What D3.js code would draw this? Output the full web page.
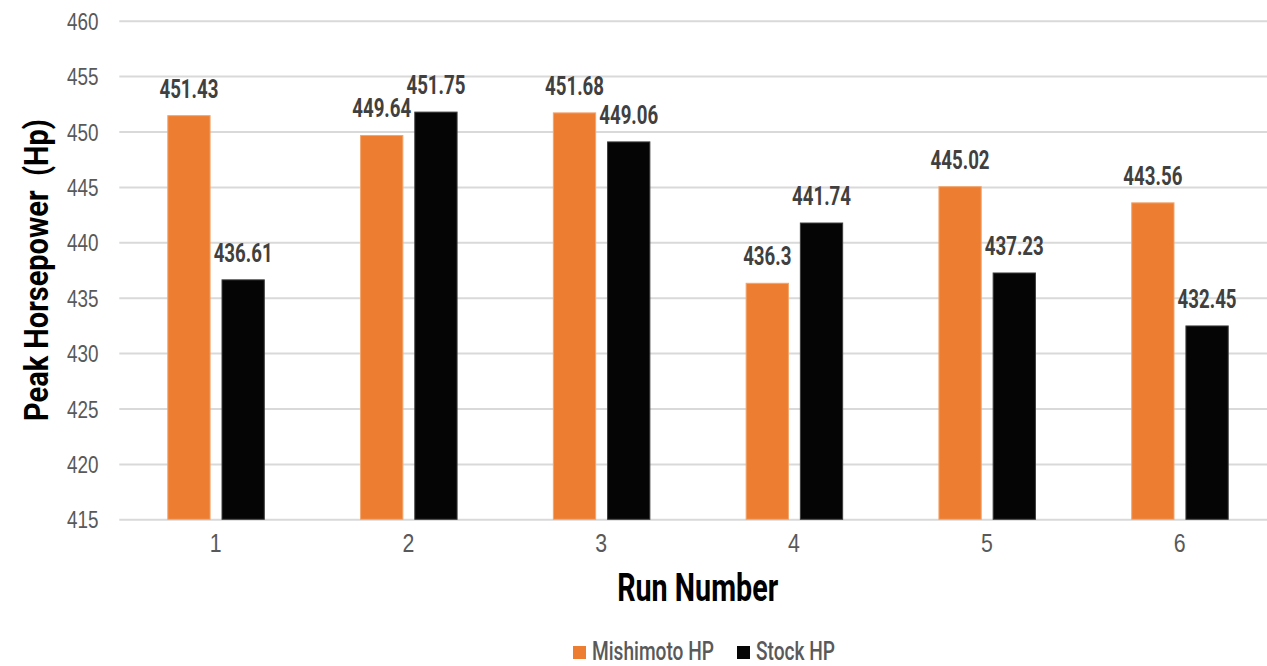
<!DOCTYPE html>
<html><head><meta charset="utf-8">
<script src="https://cdn.jsdelivr.net/npm/d3@7"></script>
<style>
html,body{margin:0;padding:0;background:#fff;}
svg{display:block;font-family:Roboto,"Liberation Sans",sans-serif;}
</style></head>
<body><svg id="c" width="1267" height="666"></svg>
<script>
const categories = ["1","2","3","4","5","6"];
const seriesNames = ["Mishimoto HP","Stock HP"];
const mishimoto = [451.43, 449.64, 451.68, 436.3, 445.02, 443.56];
const stock = [436.61, 451.75, 449.06, 441.74, 437.23, 432.45];
const yTicks = [415,420,425,430,435,440,445,450,455,460];
const colors = ["#ED7D31","#050505"];
const strokes = ["#F2A56E","#3c3c3c"];

const svg = d3.select("#c");
const x0 = d3.scaleBand().domain(categories).range([119.3,1276]).padding(0);
const x1 = d3.scaleBand().domain(seriesNames).range([48.5,145]).paddingInner(0.22).paddingOuter(0);
const y = d3.scaleLinear().domain([415,460]).range([519.3,20.7]);

// squeeze text horizontally to mimic the condensed face of the original
function condense(sel, ratio){
  sel.each(function(){
    const w = this.getComputedTextLength();
    this.setAttribute("textLength", (w*ratio).toFixed(2));
    this.setAttribute("lengthAdjust","spacingAndGlyphs");
  });
}
function ratioFor(sel, target){
  const n = sel.node();
  return target / n.getComputedTextLength();
}

// gridlines
const grid = svg.append("g")
  .attr("transform","translate(119.3,0)")
  .call(d3.axisLeft(y).tickValues(yTicks).tickSize(-(1276-119.3)).tickFormat(""));
grid.select(".domain").remove();
grid.selectAll("line").attr("stroke","#d9d9d9").attr("stroke-width",2);

// y tick labels
const yAxis = svg.append("g").attr("transform","translate(98.5,0)")
  .call(d3.axisLeft(y).tickValues(yTicks).tickSize(0).tickPadding(0).tickFormat(d3.format("d")));
yAxis.select(".domain").remove();
const ytx = yAxis.selectAll("text").attr("font-size",24).attr("font-weight",500).attr("fill","#595959").attr("dy","0.36em");
condense(ytx, ratioFor(ytx, 31.5));

// x axis labels
const xAxis = svg.append("g").attr("transform","translate(0,533)")
  .call(d3.axisBottom(x0).tickSize(0).tickPadding(0));
xAxis.select(".domain").remove();
const xtx = xAxis.selectAll("text").attr("font-size",26).attr("font-weight",500).attr("fill","#595959").attr("dy","0.74em");
condense(xtx, 0.82);

// bars
const data = categories.map((c,i)=>({cat:c, vals:[{s:seriesNames[0],v:mishimoto[i],k:0},{s:seriesNames[1],v:stock[i],k:1}]}));
const groups = svg.append("g").selectAll("g").data(data).join("g")
  .attr("transform",d=>`translate(${x0(d.cat)},0)`);
groups.selectAll("rect").data(d=>d.vals).join("rect")
  .attr("x",d=>x1(d.s)).attr("width",x1.bandwidth())
  .attr("y",d=>y(d.v)).attr("height",d=>y(415)-y(d.v))
  .attr("fill",d=>colors[d.k]).attr("stroke",d=>strokes[d.k]).attr("stroke-width",1);
const vl = groups.selectAll("text").data(d=>d.vals).join("text")
  .attr("x",d=>x1(d.s)+x1.bandwidth()/2).attr("y",d=>y(d.v)-18)
  .attr("text-anchor","middle").attr("font-size",25).attr("font-weight",700).attr("fill","#404040")
  .text(d=>String(d.v));
condense(vl, ratioFor(vl, 59));

// axis titles
const yt = svg.append("text").attr("transform",`translate(47.5,${(519.3+20.7)/2}) rotate(-90)`)
  .attr("text-anchor","middle").attr("font-size",34).attr("font-weight",700).attr("fill","#000")
  .text("Peak Horsepower\u00A0 (Hp)");
condense(yt, ratioFor(yt, 302));
const xt = svg.append("text").attr("x",(119.3+1276)/2).attr("y",601)
  .attr("text-anchor","middle").attr("font-size",39).attr("font-weight",700).attr("fill","#000")
  .text("Run Number");
condense(xt, ratioFor(xt, 161));

// legend
const legendX = [573, 737];
const lg = svg.append("g").selectAll("g").data(seriesNames).join("g")
  .attr("transform",(d,i)=>`translate(${legendX[i]},0)`);
lg.append("rect").attr("x",0).attr("y",646).attr("width",13).attr("height",13)
  .attr("fill",(d,i)=>colors[i]);
const lt = lg.append("text").attr("x",19).attr("y",659.5).attr("font-size",25).attr("font-weight",500)
  .attr("fill","#595959").text(d=>d);
condense(lt, ratioFor(lt, 122));
</script></body></html>
